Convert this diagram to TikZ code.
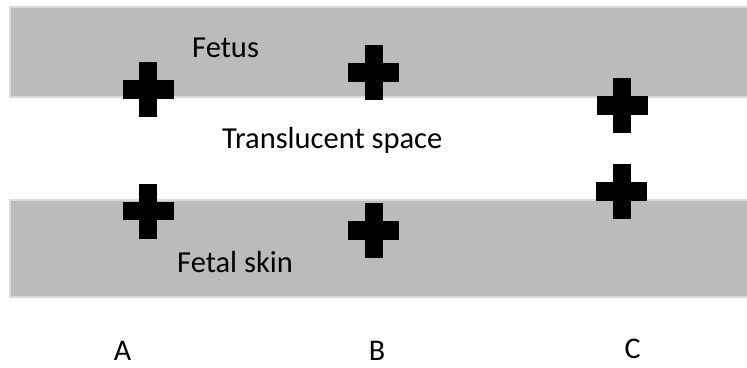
\documentclass[tikz,border=0pt]{standalone}
\usepackage{fontspec}
\setmainfont{Carlito}
\usepackage{xcolor}
\usepackage{tikz}
\usetikzlibrary{positioning}

\definecolor{bandgray}{RGB}{187,187,187}
\definecolor{bandedge}{RGB}{218,218,218}

\begin{document}
\begin{tikzpicture}[
    x=1pt,y=-1pt,
    band/.style={fill=bandgray,draw=bandedge,line width=1.6pt},
    lbl/.style={inner sep=0pt,anchor=base west,font=\fontsize{30.5}{36}\selectfont},
    col/.style={inner sep=0pt,anchor=base,text depth=0pt,font=\fontsize{30}{34}\selectfont},
    plusmark/.pic={
        \fill[black] (-25.5,-9.25) rectangle (25.5,9.25);
        \fill[black] (-9,-27.5) rectangle (9,27.5);
    },
]
\useasboundingbox (0,0) rectangle (747,367);
% layers
\draw[band] (10,7) rectangle (752,97);
\draw[band] (10,200) rectangle (752,297);
% texts
\node[lbl] (fetus) at (192,57) {Fetus};
\node[lbl] (space) at (222,148) {Translucent space};
\node[lbl] (skin) at (177,272) {Fetal skin};
% markers
\pic (pA1) at (148,89.5) {plusmark};
\pic (pA2) at (148,211) {plusmark};
\pic (pB1) at (373.5,72.5) {plusmark};
\pic (pB2) at (373.5,230.5) {plusmark};
\pic (pC1) at (622,105.5) {plusmark};
\pic (pC2) at (621.5,191.5) {plusmark};
% columns
\node[col] (colA) at (122.5,360.5) {A};
\node[col] (colB) at (377,360.5) {B};
\node[col] (colC) at (632.5,358.5) {C};
\end{tikzpicture}
\end{document}
